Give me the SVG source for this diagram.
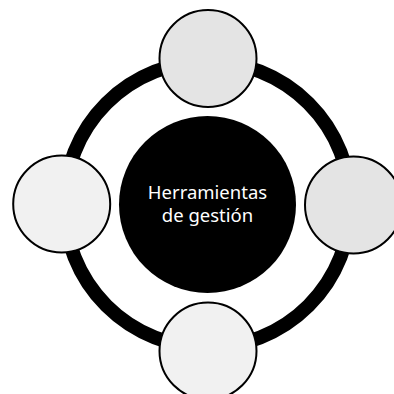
<svg xmlns="http://www.w3.org/2000/svg" width="394" height="394" viewBox="0 0 394 394">
<style>
.sat{stroke:#000;stroke-width:2}
.dark{fill:#e4e4e4}
.light{fill:#f1f1f1}
.lbl{font-family:"Noto Sans","Open Sans",sans-serif;font-size:18.5px;fill:#fff;text-anchor:middle}
</style>
<rect width="394" height="394" fill="#fff"/>
<g id="connectors">
<circle cx="207.5" cy="204.5" r="143" fill="none" stroke="#000" stroke-width="14"/>
</g>
<g id="center">
<circle cx="207.5" cy="204.5" r="88.5" fill="#000"/>
<text class="lbl" x="207.5" y="199">Herramientas</text>
<text class="lbl" x="207.5" y="222">de gestión</text>
</g>
<g id="top"><circle class="sat dark" cx="208" cy="58.5" r="48.5"/></g>
<g id="right"><circle class="sat dark" cx="353.5" cy="205" r="48.5"/></g>
<g id="bottom"><circle class="sat light" cx="208" cy="351" r="48.5"/></g>
<g id="left"><circle class="sat light" cx="61.7" cy="204" r="48.5"/></g>
</svg>
